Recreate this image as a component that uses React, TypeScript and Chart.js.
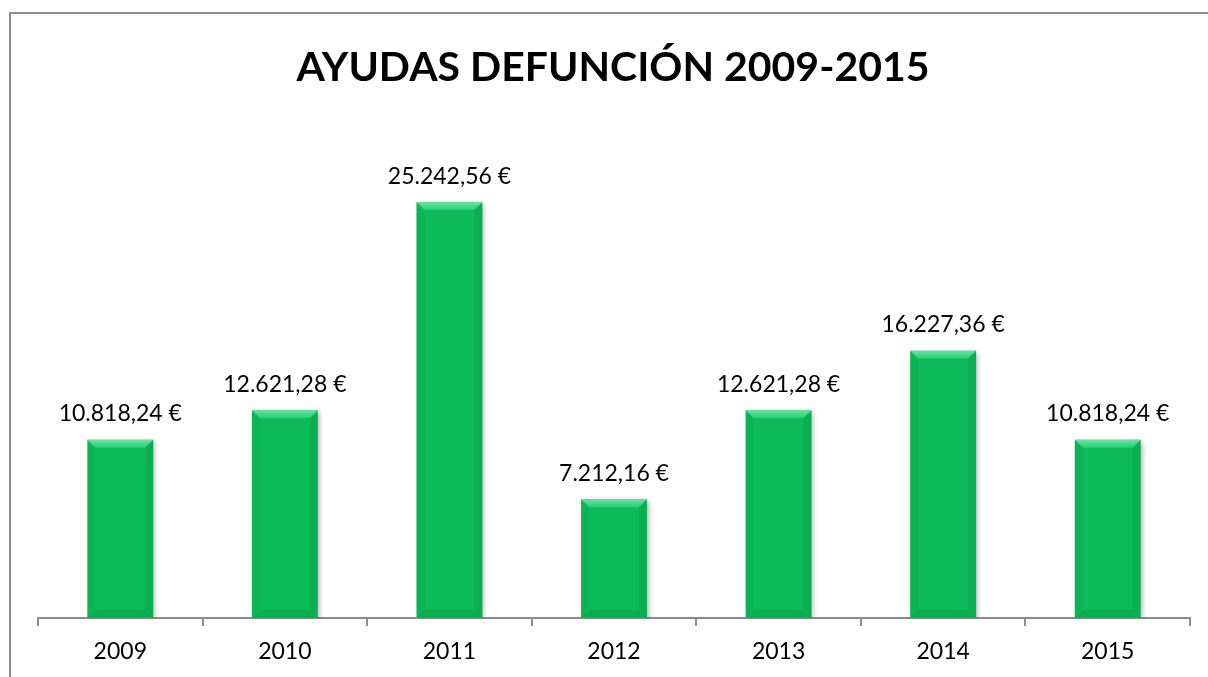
import React, { useEffect, useRef } from "react";
import { Chart, registerables } from "chart.js";

Chart.register(...registerables);

const titleText = "AYUDAS DEFUNCIÓN 2009-2015";
const years = ["2009", "2010", "2011", "2012", "2013", "2014", "2015"];
const amounts = [10818.24, 12621.28, 25242.56, 7212.16, 12621.28, 16227.36, 10818.24];
const amountLabels = [
  "10.818,24 €",
  "12.621,28 €",
  "25.242,56 €",
  "7.212,16 €",
  "12.621,28 €",
  "16.227,36 €",
  "10.818,24 €",
];

const FONT = "Lato, 'Open Sans', sans-serif";

const framePlugin = {
  id: "frame",
  beforeDraw(chart: any) {
    const ctx = chart.ctx;
    ctx.save();
    ctx.fillStyle = "#ffffff";
    ctx.fillRect(0, 0, chart.width, chart.height);
    ctx.strokeStyle = "#8c8c8c";
    ctx.lineWidth = 2;
    ctx.strokeRect(10, 13, chart.width + 50, chart.height + 50);
    ctx.fillStyle = "#000";
    ctx.font = `bold 41px ${FONT}`;
    ctx.textAlign = "center";
    ctx.textBaseline = "middle";
    ctx.fillText(titleText, 613, 68);
    ctx.restore();
  },
};

const barStylePlugin = {
  id: "barStyle",
  beforeDatasetsDraw(chart: any) {
    const ctx = chart.ctx;
    ctx.save();
    ctx.shadowColor = "rgba(0,0,0,0.3)";
    ctx.shadowBlur = 5;
    ctx.shadowOffsetX = 2;
    ctx.shadowOffsetY = 2;
  },
  afterDatasetsDraw(chart: any) {
    const ctx = chart.ctx;
    ctx.restore();
    const meta = chart.getDatasetMeta(0);
    ctx.save();
    meta.data.forEach((bar: any, i: number) => {
      const w = bar.width;
      const l = bar.x - w / 2;
      const r = bar.x + w / 2;
      const t = bar.y;
      const b = bar.base;
      const bv = 8;
      // top bevel
      const g = ctx.createLinearGradient(0, t, 0, t + bv);
      g.addColorStop(0, "#5fe9a0");
      g.addColorStop(1, "#26cc74");
      ctx.fillStyle = g;
      ctx.beginPath();
      ctx.moveTo(l, t);
      ctx.lineTo(r, t);
      ctx.lineTo(r - bv, t + bv);
      ctx.lineTo(l + bv, t + bv);
      ctx.closePath();
      ctx.fill();
      // left bevel
      ctx.fillStyle = "rgba(0,120,50,0.08)";
      ctx.beginPath();
      ctx.moveTo(l, t);
      ctx.lineTo(l + bv, t + bv);
      ctx.lineTo(l + bv, b - bv);
      ctx.lineTo(l, b);
      ctx.closePath();
      ctx.fill();
      // right bevel
      ctx.fillStyle = "rgba(0,100,40,0.12)";
      ctx.beginPath();
      ctx.moveTo(r, t);
      ctx.lineTo(r - bv, t + bv);
      ctx.lineTo(r - bv, b - bv);
      ctx.lineTo(r, b);
      ctx.closePath();
      ctx.fill();
      // bottom bevel
      ctx.fillStyle = "rgba(0,100,40,0.14)";
      ctx.beginPath();
      ctx.moveTo(l, b);
      ctx.lineTo(l + bv, b - bv);
      ctx.lineTo(r - bv, b - bv);
      ctx.lineTo(r, b);
      ctx.closePath();
      ctx.fill();
      // value label
      ctx.fillStyle = "#000";
      ctx.font = `23px ${FONT}`;
      ctx.textAlign = "center";
      ctx.textBaseline = "middle";
      ctx.fillText(amountLabels[i], bar.x, t - 26);
    });
    ctx.restore();
  },
};

export default function App() {
  const ref = useRef<HTMLCanvasElement>(null);
  useEffect(() => {
    if (!ref.current) return;
    const chart = new Chart(ref.current, {
      type: "bar",
      data: {
        labels: years,
        datasets: [
          {
            data: amounts,
            backgroundColor: "#0dba58",
            borderWidth: 0,
            categoryPercentage: 1,
            barPercentage: 0.4,
          },
        ],
      },
      options: {
        animation: false,
        responsive: false,
        maintainAspectRatio: false,
        layout: { padding: { left: 38, right: 18, top: 124, bottom: 0 } },
        plugins: {
          legend: { display: false },
          tooltip: { enabled: false },
          title: { display: false },
        },
        scales: {
          y: { display: false, min: 0, max: 30000 },
          x: {
            afterFit: (s: any) => {
              s.height = 59;
            },
            grid: {
              offset: true,
              drawOnChartArea: false,
              drawTicks: true,
              tickLength: 8,
              color: "#8c8c8c",
              lineWidth: 2,
            },
            border: { color: "#8c8c8c", width: 2 },
            ticks: {
              color: "#000",
              font: { family: FONT, size: 23 },
              padding: 12,
            },
          },
        },
      },
      plugins: [framePlugin, barStylePlugin],
    });
    return () => chart.destroy();
  }, []);
  return (
    <div style={{ position: "fixed", left: 0, top: 0, width: 1208, height: 677, overflow: "hidden" }}>
      <canvas ref={ref} width={1208} height={677} style={{ display: "block" }} />
    </div>
  );
}
